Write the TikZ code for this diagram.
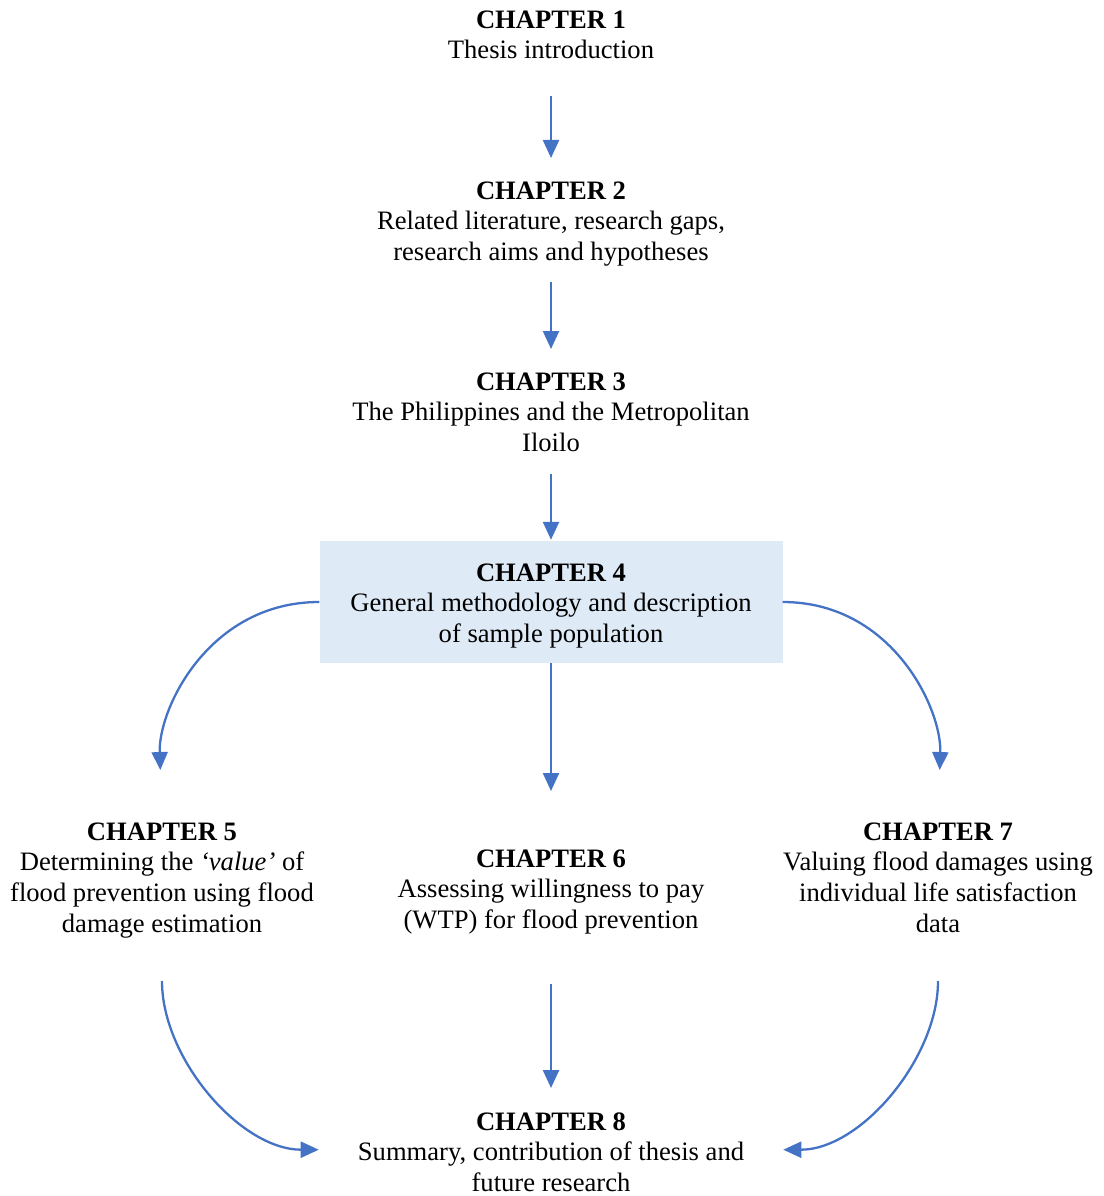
\documentclass[tikz,border=0pt]{standalone}
\usepackage{fontspec}
\setmainfont{Liberation Serif}
\usetikzlibrary{arrows.meta}
\definecolor{flowblue}{HTML}{4472C4}
\definecolor{boxfill}{HTML}{DEEAF6}
\tikzset{
  chap/.style={font=\fontsize{26.6}{30.6}\selectfont, align=center, inner sep=0pt, anchor=north},
  flow/.style={draw=flowblue, line width=2.3pt, -{Triangle[width=16pt,length=18pt]}},
  hibox/.style={fill=boxfill, draw=none, minimum width=463pt, minimum height=122pt, inner sep=0pt}
}
\begin{document}
\begin{tikzpicture}[x=1pt,y=-1pt]
\useasboundingbox (0,0) rectangle (1103,1196);

% highlighted methodology chapter
\node[hibox] (c4box) at (551,602) {};

% chapter texts
\node[chap] (c1) at (551,6.6) {\strut\textbf{CHAPTER 1}\\\strut Thesis introduction};
\node[chap] (c2) at (551,177.6) {\strut\textbf{CHAPTER 2}\\\strut Related literature, research gaps,\\\strut research aims and hypotheses};
\node[chap] (c3) at (551,368.6) {\strut\textbf{CHAPTER 3}\\\strut The Philippines and the Metropolitan\\\strut Iloilo};
\node[chap] (c4) at (551,559.6) {\strut\textbf{CHAPTER 4}\\\strut General methodology and description\\\strut of sample population};
\node[chap] (c5) at (162,818.6) {\strut\textbf{CHAPTER 5}\\\strut Determining the \textit{‘value’} of\\\strut flood prevention using flood\\\strut damage estimation};
\node[chap] (c6) at (551,845.6) {\strut\textbf{CHAPTER 6}\\\strut Assessing willingness to pay\\\strut (WTP) for flood prevention};
\node[chap] (c7) at (938,818.6) {\strut\textbf{CHAPTER 7}\\\strut Valuing flood damages using\\\strut individual life satisfaction\\\strut data};
\node[chap] (c8) at (551,1108.6) {\strut\textbf{CHAPTER 8}\\\strut Summary, contribution of thesis and\\\strut future research};

% straight connectors down the middle
\draw[flow, shorten <=27.8pt, shorten >=19.6pt] (c1.south) -- (c2.north);
\draw[flow, shorten <=11.8pt, shorten >=19.6pt] (c2.south) -- (c3.north);
\draw[flow, shorten <=12.8pt, shorten >=1pt] (c3.south) -- (c4box.north);
\draw[flow, shorten >=54.6pt] (c4box.south) -- (c6.north);
\draw[flow, shorten <=45.8pt, shorten >=20.6pt] (c6.south) -- (c8.north);

% curved connectors to the side chapters
\draw[flow, shorten >=48.6pt] (c4box.west) to[out=180, in=92, looseness=1.05] (c5.north);
\draw[flow, shorten >=48.6pt] (c4box.east) to[out=0, in=88, looseness=1.05] (c7.north);

% curved connectors into the summary chapter
\draw[flow, shorten <=39.8pt, shorten >=39pt] (c5.south) to[out=-90, in=180, looseness=1.05] ([yshift=5pt]c8.west);
\draw[flow, shorten <=39.8pt, shorten >=39pt] (c7.south) to[out=-90, in=0, looseness=1.05] ([yshift=5pt]c8.east);
\end{tikzpicture}
\end{document}
